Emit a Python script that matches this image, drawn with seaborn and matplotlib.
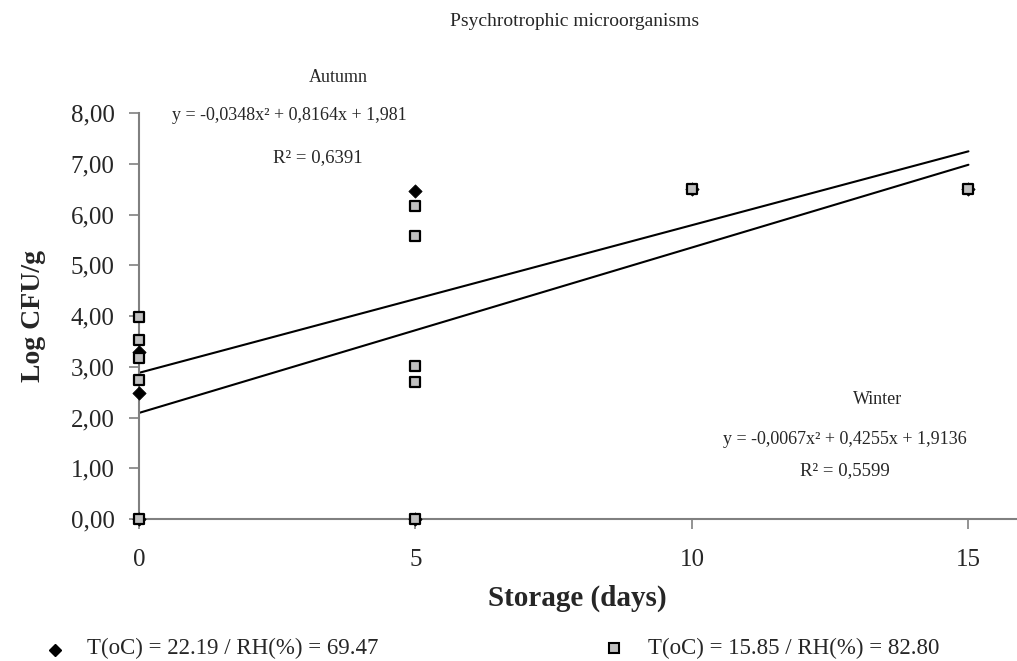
import matplotlib
matplotlib.use("Agg")
import matplotlib.pyplot as plt
import seaborn as sns
import numpy as np
import pandas as pd
from matplotlib.lines import Line2D

# Data
days_a = [0, 0, 0, 5, 5, 10, 15]
logcfu_a = [3.30, 2.48, 0.00, 6.47, 0.00, 6.50, 6.50]
days_b = [0, 0, 0, 0, 0, 5, 5, 5, 5, 5, 10, 15]
logcfu_b = [3.98, 3.52, 3.18, 2.73, 0.00, 6.17, 5.57, 3.02, 2.70, 0.00, 6.50, 6.50]
series_labels = ["T(oC) = 22.19 / RH(%) = 69.47", "T(oC) = 15.85 / RH(%) = 82.80"]
trend_intercepts = [2.88, 2.09]
trend_slopes = [0.291, 0.326]
x_ticks = [0, 5, 10, 15]
y_ticks = [0, 1, 2, 3, 4, 5, 6, 7, 8]
y_ticklabels = ["0,00", "1,00", "2,00", "3,00", "4,00", "5,00", "6,00", "7,00", "8,00"]

sns.set_theme(style="white")
plt.rcParams["font.family"] = ["Liberation Serif", "DejaVu Serif"]

W, H = 1017, 661
fig = plt.figure(figsize=(W / 100, H / 100), dpi=100)
ax = fig.add_axes([139 / W, 1 - 519 / H, (1016 - 139) / W, (519 - 113) / H])

# trend lines
xs = np.array([0, 15])
for b0, b1 in zip(trend_intercepts, trend_slopes):
    sns.lineplot(x=xs, y=b0 + b1 * xs, ax=ax, color="black", linewidth=1.5, zorder=2)

df_a = pd.DataFrame({"x": days_a, "y": logcfu_a})
df_b = pd.DataFrame({"x": days_b, "y": logcfu_b})
sns.scatterplot(data=df_a, x="x", y="y", ax=ax, marker="D", s=46, color="black",
                edgecolor="black", linewidth=0.5, zorder=3, clip_on=False)
sns.scatterplot(data=df_b, x="x", y="y", ax=ax, marker="s", s=48, color="#c0c0c0",
                edgecolor="black", linewidth=1.6, zorder=4, clip_on=False)

ax.set_xlim(0, 15.86)
ax.set_ylim(0, 8)
ax.set_xticks(x_ticks)
ax.set_xticklabels([str(t) for t in x_ticks], fontsize=18)
ax.set_yticks(y_ticks)
ax.set_yticklabels(y_ticklabels, fontsize=18)
for s in ["top", "right"]:
    ax.spines[s].set_visible(False)
for s in ["left", "bottom"]:
    ax.spines[s].set_color("#808080")
    ax.spines[s].set_linewidth(1.5)
ax.tick_params(axis="both", direction="out", length=7.5, width=1.2, color="#808080",
               bottom=True, left=True)
ax.tick_params(axis="x", pad=14)
ax.tick_params(axis="y", pad=10)

ax.set_xlabel("Storage (days)", fontsize=21, fontweight="bold")
ax.set_ylabel("Log CFU/g", fontsize=20, fontweight="bold")
ax.xaxis.set_label_coords(0.5, (519 - 585) / 406)
ax.yaxis.set_label_coords((46 - 139) / 877, 0.5)

def ftxt(x, y, s, ha="center", size=13):
    fig.text(x / W, 1 - y / H, s, ha=ha, va="center", fontsize=size)

ftxt(575, 22, "Psychrotrophic microorganisms", size=14)
ftxt(338, 77, "Autumn")
ftxt(172, 115, "y = -0,0348x² + 0,8164x + 1,981", ha="left")
ftxt(318, 158, "R² = 0,6391", size=13.5)
ftxt(878, 400, "Winter")
ftxt(845, 440, "y = -0,0067x² + 0,4255x + 1,9136")
ftxt(845, 471, "R² = 0,5599", size=13.5)

# legend keys
fig.add_artist(Line2D([55 / W], [1 - 650 / H], marker="D", color="black",
                      linestyle="none", markersize=6.5, transform=fig.transFigure))
fig.add_artist(Line2D([614 / W], [1 - 648 / H], marker="s", markerfacecolor="#c0c0c0",
                      markeredgecolor="black", markeredgewidth=1.5, linestyle="none",
                      markersize=6.5, transform=fig.transFigure))
ftxt(87, 648, series_labels[0], ha="left", size=16.5)
ftxt(648, 648, series_labels[1], ha="left", size=16.5)

fig.savefig("out.png", dpi=100)
